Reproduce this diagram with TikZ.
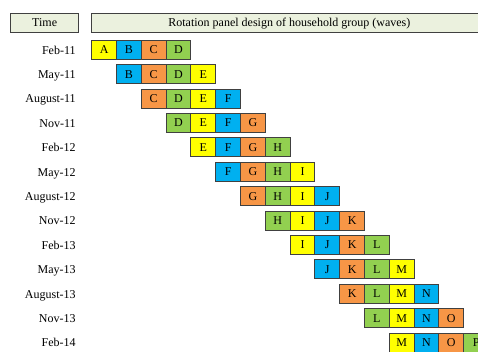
\documentclass[tikz,border=0pt]{standalone}
\usepackage{fontspec}
\setmainfont{Liberation Serif}
\definecolor{cY}{HTML}{FFFF00}
\definecolor{cB}{HTML}{00B0F0}
\definecolor{cO}{HTML}{F79646}
\definecolor{cG}{HTML}{92D050}
\definecolor{hdrfill}{HTML}{EBF1DE}
\definecolor{edge}{HTML}{404040}
\begin{document}
\begin{tikzpicture}[x=1bp,y=-1bp,
  font=\fontsize{12bp}{14bp}\selectfont,
  hdr/.style={draw=edge, line width=1bp, fill=hdrfill, minimum height=19bp, inner sep=0pt, text height=7.9bp, text depth=0pt},
  month/.style={anchor=base east, inner sep=0pt},
  cell/.style={draw=edge, line width=1bp, minimum width=24.8bp, minimum height=19bp, inner sep=0pt, text height=7.9bp, text depth=0pt}]
\useasboundingbox (0,0) rectangle (478,351);
\clip (0,0) rectangle (478,351);
\node[hdr, minimum width=67.3bp] (time) at (44.65,22.8) {Time};
\node[hdr, minimum width=395.3bp] (rot) at (289.35,22.8) {Rotation panel design of household group (waves)};
\foreach \m [count=\i from 0] in {Feb-11,May-11,August-11,Nov-11,Feb-12,May-12,August-12,Nov-12,Feb-13,May-13,August-13,Nov-13,Feb-14} {
  \node[month] (m\i) at ({75.8},{49.7+24.4*\i+4.3}) {\m};
  \foreach \j in {0,...,3} {
    \pgfmathtruncatemacro\k{\i+\j}
    \pgfmathtruncatemacro\c{mod(\k,4)}
    \pgfmathparse{{"cY","cB","cO","cG"}[\c]}
    \edef\col{\pgfmathresult}
    \node[cell, fill=\col] (c\i-\j) at ({91.7+24.8*\k+12.4},{49.7+24.4*\i}) {\char\numexpr65+\k\relax};
  }
}
\end{tikzpicture}
\end{document}
